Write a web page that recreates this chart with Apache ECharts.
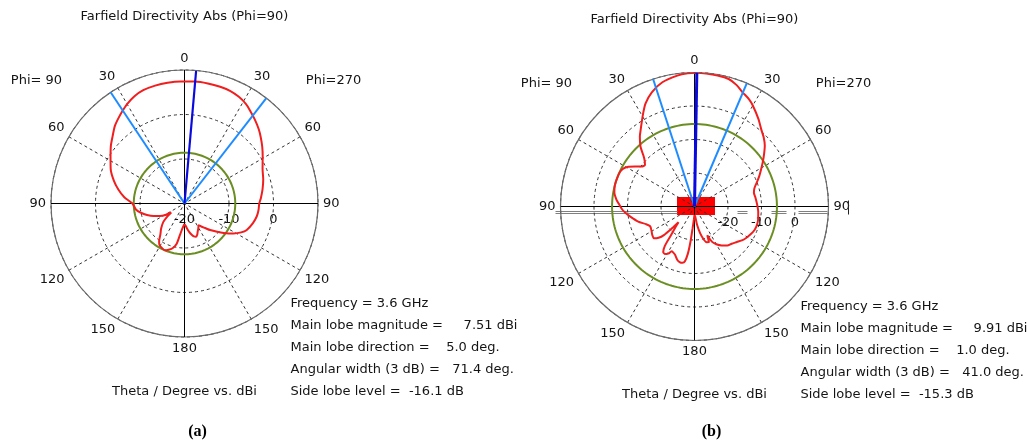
<!DOCTYPE html>
<html>
<head>
<meta charset="utf-8">
<script src="https://cdn.jsdelivr.net/npm/echarts@6/dist/echarts.min.js"></script>
<style>
  html, body { margin: 0; padding: 0; background: #fff; }
  #chart { width: 1027px; height: 443px; }
</style>
</head>
<body>
<div id="chart"></div>
<script>
// ---- Farfield cut (a): theta in degrees, directivity in dBi ----
const thetaA = [-180,-176,-172,-169,-165,-160,-157,-153,-149,-146,-142,-137,-131,-127,-124,-121,-117,-112,-107,-102,
  -97,-90,-84,-78,-72,-65,-58,-52,-47,-42,-38,-34,-30,-25,-20,-14,-8,-2,5,11,
  17,22,27,31.5,35,40,45,49,54,59,66,73,80,86,90,95,100,106,113,117,
  121.5,127,131,136,140,143.5,147,151,155,158,161,164,167,171,174.5,177,180];
const dbiA = [-15.4,-14.6,-13.0,-10.8,-9.6,-8.9,-8.6,-8.8,-9.1,-9.8,-11.2,-12.3,-13.7,-15.2,-16.4,-15.0,-13.8,-12.5,-11.2,-10.0,
  -9.0,-8.3,-6.4,-4.8,-3.3,-1.7,-0.4,1.0,2.1,3.4,4.2,5.0,5.8,6.6,7.1,7.3,7.4,7.45,7.51,7.48,
  7.42,7.3,6.9,6.3,5.6,4.6,3.6,2.7,1.6,0.5,-0.8,-1.5,-2.2,-2.8,-3.2,-3.3,-3.5,-4.0,-4.8,-5.7,
  -7.1,-9.0,-10.3,-11.7,-12.8,-13.5,-14.2,-13.6,-13.0,-12.4,-12.1,-12.3,-12.8,-13.6,-14.4,-15.0,-15.4];

// ---- Farfield cut (b) ----
const thetaB = [-180,-177,-175,-173.5,-172,-170,-168,-165,-162,-158,-155,-153,-151,-148,-145.5,-143,-141,-138,-134.5,-134,
  -133,-131,-128,-124,-119,-114,-110,-105,-99,-95,-92,-88,-85,-80,-75,-70,-65,-62,-59,-56,
  -53,-50,-47,-45,-42,-38,-35,-30,-25.5,-20.5,-14.5,-7.5,-3,1,5,10,15,19,23,27,
  30,36,41,45,49,53,57,61,65,69,73,77,82,88,95,102,108,113,117,121,
  125,130,135,140,145,150,153.5,156,158,161,164,168,172,176,180];
const dbiB = [-27.5,-26,-23.5,-19.5,-15.8,-13.3,-12.8,-12.8,-13.3,-14.5,-14.9,-15.0,-13.9,-13.3,-13.5,-15.3,-18.5,-21.2,-23.3,-20.5,
  -17.5,-15.8,-14.6,-14.8,-15.3,-15.5,-14.6,-12.6,-10.6,-9.2,-8.3,-7.4,-6.6,-5.7,-5.4,-5.4,-5.5,-5.9,-7.0,-8.6,
  -10.2,-10.7,-9.6,-8.4,-5.9,-3.5,-2.0,1.0,4.0,6.4,8.3,9.4,9.8,9.91,9.85,9.7,9.4,8.4,6.95,5.9,
  4.8,2.4,0.4,-0.8,-2.2,-4.0,-5.7,-7.3,-8.7,-10.1,-11.3,-11.8,-11.6,-11.3,-10.9,-10.6,-10.6,-10.9,-11.4,-11.9,
  -12.5,-13.5,-14.3,-14.8,-15.8,-17.0,-18.2,-20.6,-18.5,-18.7,-19.6,-21.8,-24.5,-27,-27.5];

// ---- Summary figures for each cut ----
const freqGHz = [3.6, 3.6];
const mainLobeMag = [7.51, 9.91];      // dBi
const mainLobeDir = [5.0, 1.0];        // deg
const angularWidth = [71.4, 41.0];     // deg (3 dB)
const beamEdges = [[-33.6, 37.8], [-18.0, 23.0]]; // 3 dB edges, deg
const sideLobeLevel = [-16.1, -15.3];  // dB
const radiusRange = [[-20, 10], [-30, 10]];
const radiusStep = 10;
const angleStep = 30;
const panelTags = ['(a)', '(b)'];
const titleText = 'Farfield Directivity Abs (Phi=90)';
const axisText = 'Theta / Degree vs. dBi';
const phiLeft = 'Phi= 90', phiRight = 'Phi=270';

// ---- layout ----
const FONT = '"DejaVu Sans", sans-serif';
const FS = 13;
const TXT = '#141414';
const panels = [
  { cx: 184.5, cy: 203.5, R: 133.5, theta: thetaA, dbi: dbiA },
  { cx: 694.5, cy: 206.5, R: 134,   theta: thetaB, dbi: dbiB }
];

const toAngle = t => (t < 0 ? t + 360 : t);

const polar = [], angleAxis = [], radiusAxis = [], series = [], graphics = [];

panels.forEach((p, i) => {
  const [rMin, rMax] = radiusRange[i];
  const main = i * 2, lab = i * 2 + 1;
  polar.push({ center: [p.cx, p.cy], radius: [0, p.R] });
  polar.push({ center: [p.cx, p.cy], radius: [0, p.R] });

  angleAxis.push({
    polarIndex: main, type: 'value', min: 0, max: 360, interval: angleStep,
    startAngle: 90, clockwise: true,
    axisLine: { show: true, lineStyle: { color: '#6a6a6a', width: 1.2 } },
    axisTick: { show: false },
    axisLabel: { show: true, margin: 5, color: TXT, fontFamily: FONT, fontSize: FS,
      formatter: v => String(v <= 180 ? v : 360 - v) },
    splitLine: { show: true, lineStyle: { color: '#333', type: [3, 3], width: 1 } }
  });
  radiusAxis.push({
    polarIndex: main, type: 'value', min: rMin, max: rMax, interval: radiusStep,
    axisLine: { show: false }, axisTick: { show: false }, axisLabel: { show: false },
    splitLine: { show: true, lineStyle: { color: '#333', type: [3, 3], width: 1 } }
  });
  // second polar: radius tick labels laid along the horizontal (theta = 90) direction
  angleAxis.push({ polarIndex: lab, type: 'value', min: 0, max: 360, startAngle: 0, show: false });
  radiusAxis.push({
    polarIndex: lab, type: 'value', min: rMin, max: rMax, interval: radiusStep,
    axisLine: { show: false }, axisTick: { show: false }, splitLine: { show: false },
    axisLabel: { show: true, margin: -23, color: TXT, fontFamily: FONT, fontSize: FS,
      formatter: v => (v === rMax || (i === 1 && v === rMin)) ? '' : String(v) }
  });

  const base = { type: 'line', coordinateSystem: 'polar', polarIndex: main, symbol: 'none',
    showSymbol: false, silent: true, animation: false };

  // solid principal axes 0-180 and 90-270
  series.push(Object.assign({}, base, { data: [[rMax, 0], [rMax, 180]], z: 2,
    lineStyle: { color: '#000', width: 1 } }));
  series.push(Object.assign({}, base, { data: [[rMax, 90], [rMax, 270]], z: 2,
    lineStyle: { color: '#000', width: 1 } }));

  // side lobe threshold ring
  const ringLevel = mainLobeMag[i] + sideLobeLevel[i];
  const ring = [];
  for (let a = 0; a <= 360; a += 2) ring.push([ringLevel, a]);
  series.push(Object.assign({}, base, { data: ring, z: 3,
    lineStyle: { color: '#6b8e23', width: 2 } }));

  // directivity pattern
  series.push(Object.assign({}, base, {
    data: p.theta.map((t, k) => [p.dbi[k], toAngle(t)]), z: 4, smooth: 0.25,
    lineStyle: { color: '#f01e1e', width: 2 } }));

  // 3 dB beam edges
  beamEdges[i].forEach(e => {
    series.push(Object.assign({}, base, { data: [[rMin, toAngle(e)], [rMax, toAngle(e)]], z: 5,
      lineStyle: { color: '#1e8cff', width: 2 } }));
  });
  // main lobe direction
  series.push(Object.assign({}, base, { data: [[rMin, toAngle(mainLobeDir[i])], [rMax, toAngle(mainLobeDir[i])]], z: 6,
    lineStyle: { color: '#0a0ae0', width: i === 0 ? 2.2 : 3 } }));

  // texts
  const t = (text, x, y, align) => ({
    type: 'text', x, y, z: 10, silent: true,
    style: { text, fill: TXT, font: FS + 'px ' + FONT, textAlign: align || 'center', textVerticalAlign: 'middle' }
  });
  graphics.push(t(titleText, p.cx, p.cy - 187));
  graphics.push(t(phiLeft, p.cx - 148, p.cy - 123));
  graphics.push(t(phiRight, p.cx + 149, p.cy - 123));
  graphics.push(t(axisText, p.cx, p.cy + 188));
  const info = [
    'Frequency = ' + freqGHz[i].toFixed(1) + ' GHz',
    'Main lobe magnitude =     ' + mainLobeMag[i].toFixed(2) + ' dBi',
    'Main lobe direction =    ' + mainLobeDir[i].toFixed(1) + ' deg.',
    'Angular width (3 dB) =   ' + angularWidth[i].toFixed(1) + ' deg.',
    'Side lobe level =  ' + sideLobeLevel[i].toFixed(1) + ' dB'
  ].join('\n');
  graphics.push({ type: 'text', x: p.cx + 106, y: p.cy + 89, z: 10, silent: true,
    style: { text: info, fill: TXT, font: FS + 'px ' + FONT, lineHeight: 22, textAlign: 'left', textVerticalAlign: 'top' } });
  graphics.push({ type: 'text', x: p.cx + 13 + i * 4, y: 432, z: 10, silent: true,
    style: { text: panelTags[i], fill: '#000', font: 'bold 16px "Liberation Serif", serif', textAlign: 'center', textVerticalAlign: 'middle' } });
});

// marker box and stray guide lines around the centre of cut (b)
const pb = panels[1];
graphics.push({ type: 'rect', z: -1, silent: true,
  shape: { x: pb.cx - 17.5, y: pb.cy - 9.5, width: 38, height: 18 }, style: { fill: '#ff0000' } });
const guideSegs = [[-139, -17], [43, 53], [77, 92], [104, 133]];
guideSegs.forEach(([a, b]) => {
  [5, 7].forEach(dy => {
    graphics.push({ type: 'line', z: -1, silent: true,
      shape: { x1: pb.cx + a, y1: pb.cy + dy, x2: pb.cx + b, y2: pb.cy + dy },
      style: { stroke: '#808080', lineWidth: 1 } });
  });
});
graphics.push({ type: 'line', z: 10, silent: true,
  shape: { x1: pb.cx + 154, y1: pb.cy - 6, x2: pb.cx + 154, y2: pb.cy + 8 },
  style: { stroke: '#222', lineWidth: 1 } });

const chart = echarts.init(document.getElementById('chart'), null, { renderer: 'canvas' });
chart.setOption({
  backgroundColor: '#fff',
  animation: false,
  polar, angleAxis, radiusAxis, series,
  graphic: { elements: graphics }
});
</script>
</body>
</html>
